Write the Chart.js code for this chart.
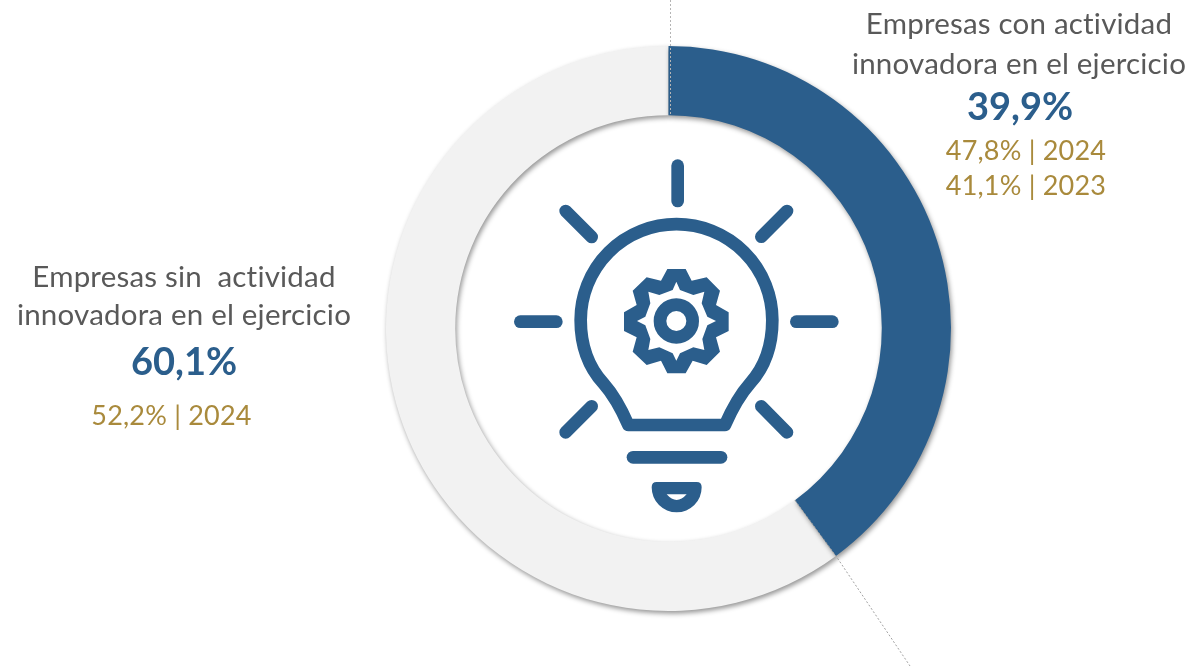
<!DOCTYPE html>
<html lang="es">
<head>
<meta charset="utf-8">
<title>Actividad innovadora</title>
<script src="https://cdn.jsdelivr.net/npm/chart.js@4"></script>
<style>
  html, body { margin: 0; padding: 0; background: #fff; overflow: hidden; }
  canvas { display: block; }
</style>
</head>
<body>
<canvas id="innovChart" width="1194" height="666"></canvas>
<script>
// Grey slice goes first so the blue one paints over its shadow
const categories = ["Empresas sin actividad innovadora", "Empresas con actividad innovadora"];
const shares = [60.1, 39.9];
const sliceColors = ["#f2f2f2", "#2b5e8c"];

const conLabel = ["Empresas con actividad", "innovadora en el ejercicio"];
const conValue = "39,9%";
const conHistory = ["47,8% | 2024", "41,1% | 2023"];

const sinLabel = ["Empresas sin  actividad", "innovadora en el ejercicio"];
const sinValue = "60,1%";
const sinHistory = ["52,2% | 2024"];

const BLUE = "#2b5e8c";
const GOLD = "#a98a3c";
const GREY_TEXT = "#595959";

// Icon paths, in units of 1/3 px around (500,150)
const bulbPath = "M385 825 L675 825 Q710 745 750 700 C800 645 817 580 817 510 A287.5 287.5 0 0 0 242 510 C242 580 260 645 310 700 Q350 745 385 825 Z";
const rayPaths = [
  "M533 47 V153", "M61 515 H169", "M889 515 H997",
  "M197 183 L275 261", "M861 183 L784 260",
  "M197 847 L275 769", "M861 847 L784 769",
  "M399 922 H663",
];
const gearPath =
  "M502 357 L557 357 L575 392 L620 382 L660 422 L648 465 L686 487 L686 543 L648 562 L660 605 L620 645 L578 632 L557 670 L502 670 L483 632 L440 645 L398 605 L410 562 L372 543 L372 487 L410 465 L398 422 L440 382 L483 392 Z " +
  "M529 395 L540 420 L580 435 L613 425 L605 460 L622 500 L648 513 L622 526 L607 567 L613 600 L580 592 L540 610 L529 632 L518 610 L478 592 L445 600 L451 567 L436 526 L411 513 L436 500 L451 460 L445 425 L478 435 L518 420 Z";
const socketPath =
  "M470 996 H590 Q605 996 605 1012 A75 75 0 0 1 455 1012 Q455 996 470 996 Z " +
  "M500 1033 H560 Q545 1050 530 1050 Q515 1050 500 1033 Z";

function drawBlock(ctx, rows) {
  ctx.textAlign = "center";
  ctx.textBaseline = "alphabetic";
  rows.forEach(function (r) {
    ctx.font = r.font;
    ctx.fillStyle = r.color;
    ctx.letterSpacing = r.spacing || "0px";
    ctx.fillText(r.text, r.x, r.y);
  });
  ctx.letterSpacing = "0px";
}

const ringShadow = {
  id: "ringShadow",
  beforeDatasetDraw(chart) {
    const ctx = chart.ctx;
    ctx.save();
    ctx.shadowColor = "rgba(0,0,0,0.42)";
    ctx.shadowBlur = 5;
    ctx.shadowOffsetX = 1.5;
    ctx.shadowOffsetY = 2.5;
  },
  afterDatasetDraw(chart) {
    chart.ctx.restore();
  },
};

const extras = {
  id: "extras",
  afterDraw(chart) {
    const ctx = chart.ctx;
    const arc = chart.getDatasetMeta(0).data[1];
    const a = arc.endAngle;
    const cx = arc.x, cy = arc.y;

    // dotted leader lines
    ctx.save();
    ctx.strokeStyle = "#b4b4b4";
    ctx.lineWidth = 1;
    ctx.setLineDash([2, 2]);
    ctx.beginPath();
    ctx.moveTo(cx + 2, 0);
    ctx.lineTo(cx + 2, cy - arc.innerRadius);
    ctx.stroke();
    ctx.strokeStyle = "#a0a0a0";
    ctx.beginPath();
    ctx.moveTo(cx + Math.cos(a) * arc.innerRadius, cy + Math.sin(a) * arc.innerRadius);
    ctx.lineTo(cx + Math.cos(a) * arc.outerRadius, cy + Math.sin(a) * arc.outerRadius);
    ctx.lineTo(910, 666);
    ctx.stroke();
    ctx.restore();

    // bulb icon
    ctx.save();
    ctx.translate(500, 150);
    ctx.scale(1 / 3, 1 / 3);
    ctx.strokeStyle = BLUE;
    ctx.fillStyle = BLUE;
    ctx.lineWidth = 38;
    ctx.lineCap = "round";
    ctx.lineJoin = "round";
    ctx.stroke(new Path2D(bulbPath));
    rayPaths.forEach(function (p) { ctx.stroke(new Path2D(p)); });
    ctx.fill(new Path2D(gearPath), "evenodd");
    ctx.fill(new Path2D(socketPath), "evenodd");
    ctx.beginPath();
    ctx.arc(529, 513, 49, 0, Math.PI * 2);
    ctx.stroke();
    ctx.restore();

    // texts
    const label = "29.5px Lato";
    const big = "bold 38px Lato";
    const small = "27px Lato";
    drawBlock(ctx, [
      { text: conLabel[0], x: 1019, y: 34, font: label, color: GREY_TEXT, spacing: "0.2px" },
      { text: conLabel[1], x: 1019, y: 74, font: label, color: GREY_TEXT, spacing: "0.2px" },
      { text: conValue, x: 1020, y: 120, font: big, color: BLUE },
      { text: conHistory[0], x: 1026, y: 160, font: small, color: GOLD, spacing: "0.2px" },
      { text: conHistory[1], x: 1026, y: 195, font: small, color: GOLD, spacing: "0.2px" },
      { text: sinLabel[0], x: 184, y: 287, font: label, color: GREY_TEXT, spacing: "0.2px" },
      { text: sinLabel[1], x: 184, y: 325, font: label, color: GREY_TEXT, spacing: "0.2px" },
      { text: sinValue, x: 184, y: 375, font: big, color: BLUE },
      { text: sinHistory[0], x: 171.5, y: 425, font: small, color: GOLD, spacing: "0.2px" },
    ]);
  },
};

new Chart(document.getElementById("innovChart"), {
  type: "doughnut",
  data: {
    labels: categories,
    datasets: [
      {
        data: shares,
        backgroundColor: sliceColors,
        borderWidth: 0,
        hoverOffset: 0,
        clip: false,
      },
    ],
  },
  options: {
    responsive: false,
    animation: false,
    cutout: "75.5%",
    rotation: (360 * shares[1]) / 100,
    layout: { padding: { left: 386, right: 243, top: 46, bottom: 55 } },
    plugins: {
      legend: { display: false },
      tooltip: { enabled: false },
    },
  },
  plugins: [ringShadow, extras],
});
</script>
</body>
</html>
